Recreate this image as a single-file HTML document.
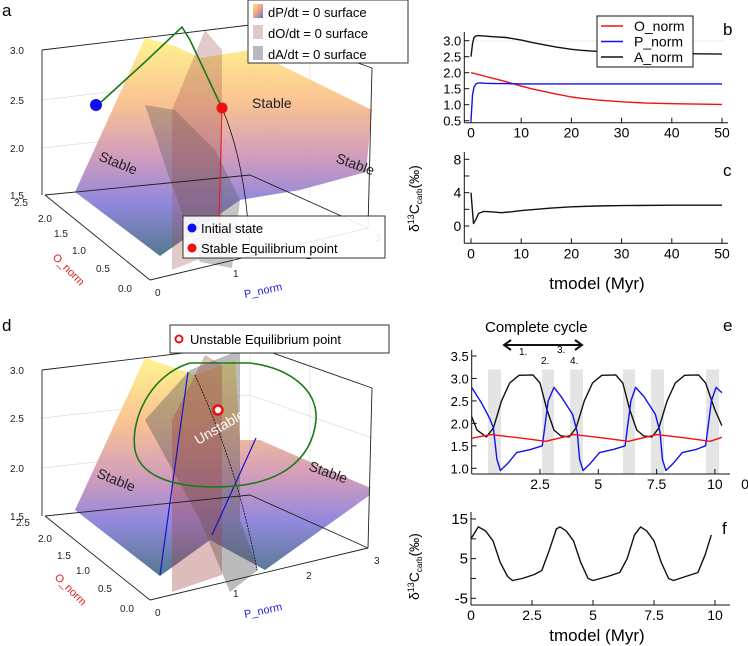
<!DOCTYPE html>
<html><head><meta charset="utf-8">
<style>
body{margin:0;background:#fff;}
svg{display:block;font-family:"Liberation Sans","DejaVu Sans",sans-serif;}
</style></head>
<body>
<svg id="fig" width="748" height="646" viewBox="0 0 748 646" xmlns="http://www.w3.org/2000/svg">
<defs>
<linearGradient id="surfA" x1="0" y1="0" x2="0" y2="1">
<stop offset="0" stop-color="#fff07a"/><stop offset="0.3" stop-color="#f8b880"/>
<stop offset="0.55" stop-color="#c88ab0"/><stop offset="0.75" stop-color="#7f74d8"/>
<stop offset="1" stop-color="#35607a"/></linearGradient>
<linearGradient id="legSw" x1="0" y1="0" x2="1" y2="1">
<stop offset="0" stop-color="#ffe070"/><stop offset="0.5" stop-color="#f0a090"/><stop offset="1" stop-color="#6070d0"/></linearGradient>
</defs>

<!-- ===== Panel a ===== -->
<g>
<text x="2" y="16" font-size="17">a</text>
<g stroke="#ddd" stroke-width="0.7" fill="none">
<line x1="42" y1="100" x2="250" y2="75"/><line x1="42" y1="148" x2="250" y2="125"/>
<line x1="250" y1="75" x2="372" y2="118"/><line x1="250" y1="125" x2="372" y2="168"/>
<line x1="250" y1="25" x2="250" y2="175"/><line x1="310" y1="45" x2="310" y2="195"/>
</g>
<polygon points="75,192 145,38 175,46 200,58 250,50 372,110 366,172 300,190 240,200 160,256" fill="url(#surfA)" opacity="0.85"/>
<polygon points="145,105 175,110 215,150 240,200 232,268 200,262 170,180" fill="#555" opacity="0.35"/>
<polygon points="205,30 222,50 222,250 172,270 172,110" fill="#a05050" opacity="0.3"/>
<g stroke="#222" stroke-width="0.9" fill="none">
<line x1="42" y1="50" x2="42" y2="195"/><line x1="42" y1="50" x2="250" y2="25"/>
<line x1="250" y1="25" x2="372" y2="68"/><line x1="372" y1="68" x2="368" y2="228"/>
<line x1="45" y1="195" x2="150" y2="280"/><line x1="150" y1="280" x2="368" y2="228"/>
<line x1="45" y1="195" x2="250" y2="175"/><line x1="250" y1="175" x2="368" y2="228"/>
</g>
<g font-size="10" fill="#222">
<text x="10" y="54">3.0</text><text x="10" y="104">2.5</text><text x="10" y="152">2.0</text><text x="10" y="199">1.5</text>
<text x="14" y="206">2.5</text><text x="38" y="222">2.0</text><text x="54" y="237">1.5</text><text x="72" y="254">1.0</text><text x="96" y="272">0.5</text><text x="118" y="292">0.0</text>
<text x="155" y="296">0</text><text x="233" y="277">1</text><text x="306" y="259">2</text><text x="375" y="241">3</text>
</g>
<text x="52" y="258" font-size="11" fill="#e02020" transform="rotate(45 52 258)">O_norm</text>
<text x="245" y="298" font-size="11" fill="#2020e0" transform="rotate(-12 245 298)">P_norm</text>
<path d="M222,108 C240,150 248,200 250,255" stroke="#111" fill="none" stroke-width="0.8"/>
<line x1="222" y1="108" x2="218" y2="255" stroke="#e02020" stroke-width="1"/>
<polyline points="100,103 145,62 182,27 190,40 222,108" fill="none" stroke="#1a7a1a" stroke-width="1.6"/>
<circle cx="96" cy="105" r="6" fill="#1010ee"/>
<circle cx="222" cy="108" r="5.5" fill="#ee1010"/>
<text x="252" y="108" font-size="14" fill="#222">Stable</text>
<text x="98" y="160" font-size="14" fill="#222" transform="rotate(22 98 160)">Stable</text>
<text x="335" y="162" font-size="14" fill="#222" transform="rotate(20 335 162)">Stable</text>
<g>
<rect x="248" y="0" width="160" height="63" fill="#fff" stroke="#333"/>
<rect x="253" y="4" width="10" height="14" fill="url(#legSw)"/>
<rect x="253" y="25" width="10" height="14" fill="#e0c8c8"/>
<rect x="253" y="46" width="10" height="14" fill="#b8b8c0"/>
<text x="268" y="17" font-size="13">dP/dt = 0 surface</text>
<text x="268" y="38" font-size="13">dO/dt = 0 surface</text>
<text x="268" y="59" font-size="13">dA/dt = 0 surface</text>
</g>
<g>
<rect x="183" y="216" width="202" height="42" fill="#fff" fill-opacity="0.9" stroke="#333"/>
<circle cx="192" cy="228" r="4.5" fill="#1010ee"/><circle cx="192" cy="248" r="4.5" fill="#ee1010"/>
<text x="201" y="233" font-size="13">Initial state</text>
<text x="201" y="253" font-size="13">Stable Equilibrium point</text>
</g>
</g>

<!-- ===== Panel d ===== -->
<g>
<text x="2" y="331" font-size="17">d</text>
<g stroke="#ddd" stroke-width="0.7" fill="none">
<line x1="42" y1="418" x2="250" y2="395"/><line x1="42" y1="468" x2="250" y2="445"/>
<line x1="250" y1="395" x2="372" y2="438"/><line x1="250" y1="445" x2="372" y2="488"/>
<line x1="250" y1="345" x2="250" y2="495"/><line x1="310" y1="365" x2="310" y2="515"/>
</g>
<polygon points="75,510 145,358 175,368 195,375 235,360 240,440 260,440 370,488 370,495 265,570 210,540 160,576" fill="url(#surfA)" opacity="0.85"/>
<polygon points="145,420 190,370 240,350 240,520 258,570 230,592 200,520" fill="#555" opacity="0.4"/>
<polygon points="205,355 222,365 222,575 172,592 172,420" fill="#a04040" opacity="0.35"/>
<g stroke="#222" stroke-width="0.9" fill="none">
<line x1="42" y1="370" x2="42" y2="516"/><line x1="42" y1="370" x2="250" y2="345"/>
<line x1="250" y1="345" x2="372" y2="388"/><line x1="372" y1="388" x2="368" y2="548"/>
<line x1="45" y1="516" x2="150" y2="600"/><line x1="150" y1="600" x2="368" y2="548"/>
<line x1="45" y1="516" x2="250" y2="495"/><line x1="250" y1="495" x2="368" y2="548"/>
</g>
<g font-size="10" fill="#222">
<text x="10" y="374">3.0</text><text x="10" y="422">2.5</text><text x="10" y="472">2.0</text><text x="10" y="520">1.5</text>
<text x="16" y="526">2.5</text><text x="38" y="542">2.0</text><text x="57" y="559">1.5</text><text x="76" y="574">1.0</text><text x="98" y="592">0.5</text><text x="120" y="612">0.0</text>
<text x="155" y="616">0</text><text x="233" y="597">1</text><text x="306" y="579">2</text><text x="374" y="564">3</text>
</g>
<text x="54" y="578" font-size="11" fill="#e02020" transform="rotate(45 54 578)">O_norm</text>
<text x="245" y="618" font-size="11" fill="#2020e0" transform="rotate(-12 245 618)">P_norm</text>
<line x1="188" y1="372" x2="160" y2="575" stroke="#1515cc" stroke-width="1.2"/>
<line x1="256" y1="438" x2="212" y2="535" stroke="#1515cc" stroke-width="1.2"/>
<path d="M195,375 C215,420 240,480 257,570" stroke="#111" fill="none" stroke-width="0.8" stroke-dasharray="2,1"/>
<path d="M135,450 C130,420 150,375 190,363 L250,363 C290,368 318,390 316,420 C312,460 280,487 215,487 C170,487 140,475 135,450" fill="none" stroke="#1a7a1a" stroke-width="1.6"/>
<circle cx="218" cy="410" r="4.5" fill="#fff" stroke="#ee1010" stroke-width="2.5"/>
<text x="198" y="445" font-size="14" fill="#fff" transform="rotate(-30 198 445)">Unstable</text>
<text x="96" y="477" font-size="14" fill="#222" transform="rotate(22 96 477)">Stable</text>
<text x="308" y="470" font-size="14" fill="#222" transform="rotate(20 308 470)">Stable</text>
<g>
<rect x="170" y="325" width="219" height="28" fill="#fff" stroke="#333"/>
<circle cx="179" cy="339" r="3.5" fill="#fff" stroke="#ee1010" stroke-width="2"/>
<text x="190" y="344" font-size="13">Unstable Equilibrium point</text>
</g>
</g>

<text transform="translate(419,232) rotate(-90)" font-size="14">δ<tspan font-size="9" dy="-5">13</tspan><tspan dy="5">C</tspan><tspan font-size="8" dy="3">carb</tspan><tspan dy="-3">(‰)</tspan></text>
<text transform="translate(419,600) rotate(-90)" font-size="14">δ<tspan font-size="9" dy="-5">13</tspan><tspan dy="5">C</tspan><tspan font-size="8" dy="3">carb</tspan><tspan dy="-3">(‰)</tspan></text>

<g id="charts"></g>
</svg>
<script>
// ---- panel b ----
const bTime=[0,0.3,0.6,1,1.5,3,5,7,10,12,15,17,20,22,25,30,35,40,45,50];
const bA=[2.5,2.9,3.1,3.15,3.16,3.14,3.12,3.1,3.02,2.95,2.86,2.8,2.73,2.7,2.67,2.64,2.61,2.6,2.59,2.58];
const bO=[2.0,1.99,1.98,1.96,1.94,1.88,1.8,1.72,1.58,1.5,1.4,1.33,1.24,1.2,1.15,1.09,1.05,1.03,1.02,1.01];
const bP=[0.5,1.3,1.55,1.65,1.68,1.67,1.66,1.66,1.65,1.65,1.65,1.65,1.65,1.65,1.65,1.65,1.65,1.65,1.65,1.65];
const bYTicks=[0.5,1.0,1.5,2.0,2.5,3.0];
const bXTicks=[0,10,20,30,40,50];
// ---- panel c ----
const cTime=[0,0.2,0.5,1,1.5,2.5,4,6,8,10,13,16,20,25,30,40,50];
const cD=[4,2.5,0.3,0.8,1.5,1.75,1.7,1.6,1.7,1.85,2.0,2.15,2.3,2.4,2.45,2.5,2.5];
const cYTicks=[0,4,8];
// ---- panel e ----
const eTime=[-0.43,-0.2,0.2,0.5,0.85,1.2,1.6,2.2,2.5,2.8,3.1,3.4,3.75,4.05,4.4,4.75,5.15,5.75,6.05,6.35,6.65,6.95,7.3,7.6,7.95,8.3,8.7,9.3,9.6,10.0,10.3];
const eA=[2.15,1.85,1.7,1.9,2.5,2.9,3.07,3.08,2.9,2.3,1.85,1.72,1.7,1.9,2.5,2.9,3.07,3.08,2.9,2.3,1.85,1.72,1.7,1.9,2.5,2.9,3.07,3.08,2.9,2.3,1.95];
const pTime=[-0.43,0.0,0.35,0.5,0.65,0.8,1.1,1.5,2.1,2.6,2.85,3.1,3.4,3.9,4.1,4.2,4.35,4.65,5.05,5.65,6.15,6.4,6.6,6.95,7.45,7.65,7.75,7.9,8.2,8.6,9.2,9.6,9.85,10.05,10.3];
const eP=[2.8,2.45,2.1,1.9,1.2,0.95,1.1,1.35,1.42,1.5,2.5,2.8,2.6,2.2,1.8,1.2,0.95,1.1,1.35,1.42,1.5,2.5,2.8,2.6,2.2,1.8,1.2,0.95,1.1,1.35,1.42,1.5,2.5,2.8,2.68];
const oTime=[-0.43,0.4,1.6,2.75,3.95,5.15,6.3,7.5,8.7,9.8,10.3];
const eO=[1.67,1.75,1.68,1.6,1.75,1.68,1.6,1.75,1.68,1.6,1.69];
const bandStart=[0.27,2.59,3.79,6.06,7.26,9.62];
const bandEnd=[0.83,3.1,4.34,6.57,7.82,10.18];
const eYTicks=[1.0,1.5,2.0,2.5,3.0,3.5];
const eXTicks=[2.5,5,7.5];
// ---- panel f ----
const fTime=[0,0.3,0.6,0.9,1.2,1.5,1.7,2.1,2.6,2.9,3.2,3.5,3.65,3.9,4.2,4.5,4.8,5.0,5.6,6.1,6.4,6.7,6.95,7.2,7.5,7.8,8.1,8.3,8.8,9.3,9.6,9.85];
const fD=[10,13,12,9.5,4,0.5,-0.5,0,1,2,7,12.5,13,12,9.5,4,0,-0.5,0.5,1.5,5,11,13,12,9.5,4,0,-0.5,0.5,1.5,6,11];
const fYTicks=[-5,5,15];
const fMinor=[0,10];
const fXTicks=[0,2.5,5,7.5,10];

const NS='http://www.w3.org/2000/svg';
const root=document.getElementById('charts');
function mk(tag,attrs,parent){const e=document.createElementNS(NS,tag);for(const k in attrs)e.setAttribute(k,attrs[k]);(parent||root).appendChild(e);return e;}
function lin(d0,d1,r0,r1){return v=>r0+(v-d0)/(d1-d0)*(r1-r0);}
function line(xs,ys,sx,sy,color,name,g){
  const pts=xs.map((t,i)=>sx(t).toFixed(1)+','+sy(ys[i]).toFixed(1)).join(' ');
  const p=mk('polyline',{points:pts,fill:'none',stroke:color,'stroke-width':1.4,'stroke-linejoin':'round'},g);
  
  
}
function axes(g,x0,x1,y0,y1){
  mk('line',{x1:x0,y1:y0,x2:x0,y2:y1,stroke:'#111','stroke-width':1},g);
  mk('line',{x1:x0,y1:y1,x2:x1,y2:y1,stroke:'#111','stroke-width':1},g);
}
function ytick(g,x0,y,lab,fs){
  mk('line',{x1:x0,y1:y,x2:x0+5,y2:y,stroke:'#111'},g);
  if(lab!==null){const t=mk('text',{x:x0-3,y:y+5,'text-anchor':'end','font-size':fs||13},g);t.textContent=lab;}
}
function xtick(g,x,yb,lab){
  mk('line',{x1:x,y1:yb,x2:x,y2:yb-5,stroke:'#111'},g);
  const t=mk('text',{x:x,y:yb+15,'text-anchor':'middle','font-size':14},g);t.textContent=lab;
}

// panel b
{const g=mk('g',{});
const sx=lin(0,50,471,722), sy=lin(0.5,3.0,120.7,40.7);
mk('line',{x1:464,y1:40.7,x2:725,y2:40.7,stroke:'#eee'},g);
axes(g,464.3,728,32,122.7);
bYTicks.forEach(v=>ytick(g,464.3,sy(v),v.toFixed(1)));
bXTicks.forEach(v=>xtick(g,sx(v),122.7,String(v)));
line(bTime,bA,sx,sy,'#111','line-a-norm',g);
line(bTime,bO,sx,sy,'#ee1111','line-o-norm',g);
line(bTime,bP,sx,sy,'#1111ee','line-p-norm',g);
const lg=mk('g',{},g);
mk('rect',{x:597,y:16,width:96,height:51,fill:'#fff',stroke:'#111'},lg);
[['O_norm','#ee1111'],['P_norm','#1111ee'],['A_norm','#111']].forEach((e,i)=>{
 mk('line',{x1:601,y1:26+i*15.5,x2:623,y2:26+i*15.5,stroke:e[1],'stroke-width':1.4},lg);
 const t=mk('text',{x:634,y:31+i*15.5,'font-size':14},lg);t.textContent=e[0];});
const lb=mk('text',{x:723,y:35,'font-size':17},g);lb.textContent='b';}

// panel c
{const g=mk('g',{});
const sx=lin(0,50,471,722), sy=lin(0,8,226,159.3);
axes(g,464.3,728,152,243.3);
cYTicks.forEach(v=>ytick(g,464.3,sy(v),String(v),14));
[2,6].forEach(v=>ytick(g,464.3,sy(v),null));
bXTicks.forEach(v=>xtick(g,sx(v),243.3,String(v)));
line(cTime,cD,sx,sy,'#111','line-d13c-c',g);
const lb=mk('text',{x:723,y:176,'font-size':17},g);lb.textContent='c';
const xl=mk('text',{x:597,y:289,'text-anchor':'middle','font-size':17},g);xl.textContent='tmodel (Myr)';}

// panel e
{const g=mk('g',{});
const sx=lin(0,2.5,481.7,540), sy=lin(1.0,3.5,468.3,356);
bandStart.forEach((s,i)=>{
 const r=mk('rect',{x:sx(s),y:sy(3.2),width:sx(bandEnd[i])-sx(s),height:474-sy(3.2),fill:'#e4e4e4'},g);
 
 });
axes(g,471.7,730,350,474);
eYTicks.forEach(v=>ytick(g,471.7,sy(v),v.toFixed(1)));
eXTicks.forEach(v=>xtick(g,sx(v),474,String(v)));
mk('line',{x1:sx(10),y1:474,x2:sx(10),y2:469,stroke:'#111'},g);
const t10=mk('text',{x:sx(10),y:489,'text-anchor':'middle','font-size':14},g);t10.textContent='10';
const t0=mk('text',{x:745,y:489,'text-anchor':'middle','font-size':14},g);t0.textContent='0';
line(eTime,eA,sx,sy,'#111','line-a-norm-e',g);
line(pTime,eP,sx,sy,'#1111ee','line-p-norm-e',g);
line(oTime,eO,sx,sy,'#ee1111','line-o-norm-e',g);
const lb=mk('text',{x:723,y:331,'font-size':17},g);lb.textContent='e';
const ct=mk('text',{x:485,y:332,'font-size':15},g);ct.textContent='Complete cycle';
mk('line',{x1:505,y1:345,x2:581,y2:345,stroke:'#111','stroke-width':2},g);
mk('polyline',{points:'511,340 504,345 511,350',fill:'none',stroke:'#111','stroke-width':2},g);
mk('polyline',{points:'575,340 582,345 575,350',fill:'none',stroke:'#111','stroke-width':2},g);
[['1.',519,355],['2.',541,364],['3.',557,353],['4.',570,364]].forEach(a=>{const t=mk('text',{x:a[1],y:a[2],'font-size':10},g);t.textContent=a[0];});}

// panel f
{const g=mk('g',{});
const sx=lin(0,10,471,715), sy=lin(-5,15,598.3,519);
axes(g,471,730,512,605);
fYTicks.forEach(v=>ytick(g,471,sy(v),String(v),15));
fMinor.forEach(v=>ytick(g,471,sy(v),null));
fXTicks.forEach(v=>xtick(g,sx(v),605,String(v)));
line(fTime,fD,sx,sy,'#111','line-d13c-f',g);
const lb=mk('text',{x:722,y:534,'font-size':17},g);lb.textContent='f';
const xl=mk('text',{x:597,y:641,'text-anchor':'middle','font-size':17},g);xl.textContent='tmodel (Myr)';}
</script>
</body></html>
